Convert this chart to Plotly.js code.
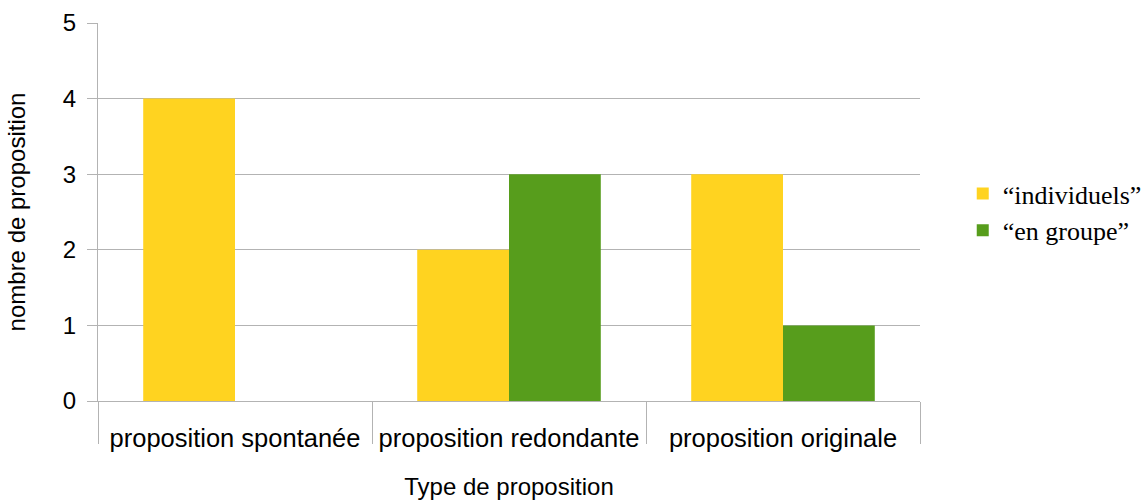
<!DOCTYPE html>
<html>
<head>
<meta charset="utf-8">
<script src="https://cdn.plot.ly/plotly-3.0.1.min.js"></script>
<style>html,body{margin:0;padding:0;background:#fff;}#chart{width:1145px;height:501px;}</style>
</head>
<body>
<div id="chart"></div>
<script>
const categories = ["proposition spontanée", "proposition redondante", "proposition originale"];
const seriesNames = ["“individuels”", "“en groupe”"];
const individuels = [4, 2, 3];
const enGroupe = [0, 3, 1];
const colors = ["#ffd320", "#579d1c"];
const yTicks = [0, 1, 2, 3, 4, 5];

const traces = [
  {type: "bar", x: categories, y: individuels, name: seriesNames[0], marker: {color: colors[0]}, legendgroup: "a"},
  {type: "bar", x: categories, y: enGroupe, name: seriesNames[1], marker: {color: colors[1]}, legendgroup: "b"}
];

const grid = "#b3b3b3";
const layout = {
  width: 1145, height: 501,
  margin: {l: 98, r: 225, t: 23, b: 100, autoexpand: false},
  paper_bgcolor: "#ffffff", plot_bgcolor: "#ffffff",
  font: {family: "Liberation Sans, Arial, sans-serif", color: "#000000", size: 24},
  barmode: "group", bargap: 0.33, bargroupgap: 0,
  showlegend: true,
  legend: {x: 1.052, xanchor: "left", y: 0.5, yanchor: "middle", font: {family: "Liberation Serif, Times New Roman, serif", size: 26, color: "#000"}, tracegroupgap: 0, itemwidth: 30, bgcolor: "rgba(0,0,0,0)"},
  xaxis: {
    type: "category", categoryarray: categories, range: [-0.5, 2.5],
    tickson: "boundaries", ticks: "outside", ticklen: 42, tickcolor: grid, tickwidth: 1,
    ticklabelstandoff: 14,
    showline: true, linecolor: grid, linewidth: 1, showgrid: false, zeroline: false,
    tickfont: {size: 25.5},
    title: {text: "Type de proposition", font: {size: 24}, standoff: 27},
    automargin: false
  },
  yaxis: {
    range: [0, 5], tickvals: yTicks, ticks: "outside", ticklen: 10, tickcolor: grid,
    ticklabelstandoff: 6,
    showline: true, linecolor: grid, showgrid: true, gridcolor: grid, zeroline: false,
    tickfont: {size: 24},
    title: {text: "nombre de proposition", font: {size: 24}, standoff: 30},
    automargin: false
  }
};
Plotly.newPlot("chart", traces, layout, {displayModeBar: false, staticPlot: true});
</script>
</body>
</html>
